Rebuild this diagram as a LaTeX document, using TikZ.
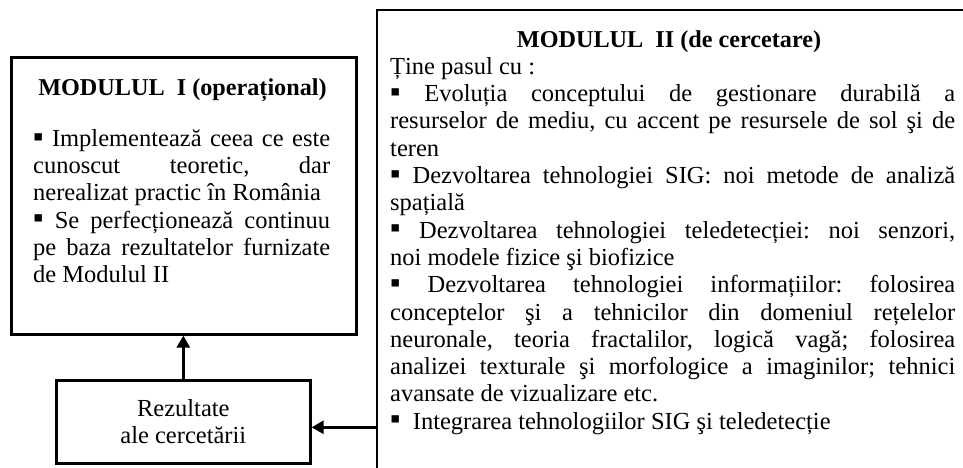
\documentclass[tikz,border=0pt]{standalone}
\usepackage{graphicx}
\usepackage{fontspec}
\setmainfont{Liberation Serif}
\usetikzlibrary{arrows.meta}
\frenchspacing
\newcommand\jline[2]{\makebox[#1][s]{#2}}
\newcommand\lline[2]{\makebox[#1][l]{#2}}
\newcommand\bul{\raisebox{0.3pt}{\scalebox{1.2}{▪}}}
\tikzset{
  boxline/.style={line width=2.6pt},
  arr/.style={line width=2.6pt, -{Triangle[length=12pt,width=13pt]}},
  txt/.style={inner sep=0pt, font=\fontsize{24.5}{27.3}\selectfont\frenchspacing},
  ttl/.style={inner sep=0pt, font=\fontsize{24.2}{27.3}\selectfont\bfseries},
}
\begin{document}
\begin{tikzpicture}[x=1pt,y=-1pt]
\useasboundingbox (0,0) rectangle (963,468);
\clip (0,0) rectangle (963,468);
% boxes
\node[draw, boxline, minimum width=345pt, minimum height=277pt, inner sep=0pt, anchor=north west] (m1) at (10,56) {};
\node[minimum width=620pt, minimum height=500pt, inner sep=0pt, anchor=north west] (m2) at (377,10) {};
\draw[boxline] (m2.south west) -- (m2.north west) -- (m2.north east);
\node[draw, boxline, minimum width=254pt, minimum height=83pt, inner sep=0pt, anchor=north west] (rez) at (55,379) {};
% texts of module I
\node[ttl, anchor=base] (m1title) at (182.5,96) {MODULUL\ \ I (operațional)};
\node[txt, anchor=north west] (m1body) at (33,127) {\begin{tabular}{@{}l@{}}
\jline{297pt}{\bul{} Implementează ceea ce este}\\
\jline{297pt}{cunoscut teoretic, dar}\\
\lline{297pt}{nerealizat practic în România}\\
\jline{297pt}{\bul{} Se perfecționează continuu}\\
\jline{297pt}{pe baza rezultatelor furnizate}\\
\lline{297pt}{de Modulul II}
\end{tabular}};
% texts of module II
\node[ttl, anchor=base] (m2title) at (669,48) {MODULUL\ \ II (de cercetare)};
\node[txt, anchor=north west] (m2body) at (390,55) {\begin{tabular}{@{}l@{}}
\lline{565pt}{Ține pasul cu :}\\
\jline{565pt}{\bul{} Evoluția conceptului de gestionare durabilă a}\\
\jline{565pt}{resurselor de mediu, cu accent pe resursele de sol şi de}\\
\lline{565pt}{teren}\\
\jline{565pt}{\bul{} Dezvoltarea tehnologiei SIG: noi metode de analiză}\\
\lline{565pt}{spațială}\\
\jline{565pt}{\bul{} Dezvoltarea tehnologiei teledetecției: noi senzori,}\\
\lline{565pt}{noi modele fizice şi biofizice}\\
\jline{565pt}{\bul{} Dezvoltarea tehnologiei informațiilor: folosirea}\\
\jline{565pt}{conceptelor şi a tehnicilor din domeniul rețelelor}\\
\jline{565pt}{neuronale, teoria fractalilor, logică vagă; folosirea}\\
\jline{565pt}{analizei texturale şi morfologice a imaginilor; tehnici}\\
\lline{565pt}{avansate de vizualizare etc.}\\
\lline{565pt}{\bul\ \ Integrarea tehnologiilor SIG şi teledetecție}
\end{tabular}};
% result box text
\node[txt, align=center] (reztext) at (rez.center) {Rezultate\\ale cercetării};
% connectors
\draw[arr] (rez.north) -- (rez.north |- m1.south);
\draw[arr] ([yshift=-5.5pt]m2.west |- rez.east) -- ([yshift=-5.5pt]rez.east);
\end{tikzpicture}
\end{document}
